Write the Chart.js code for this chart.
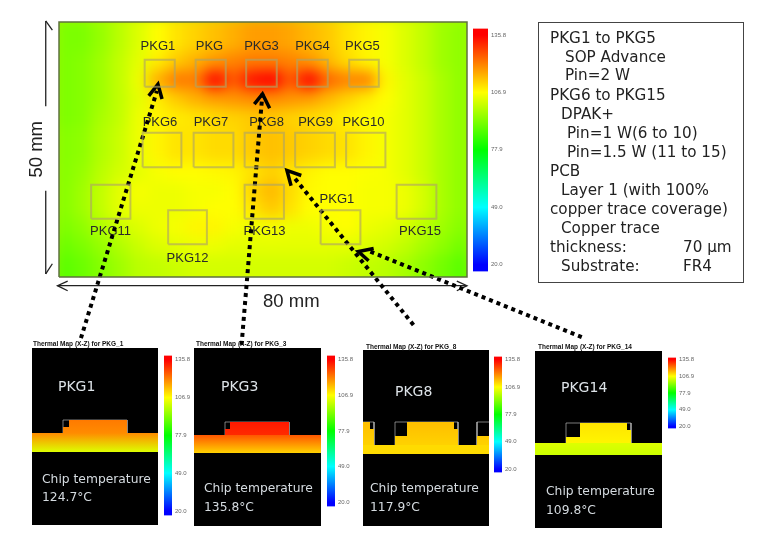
<!DOCTYPE html>
<html>
<head>
<meta charset="utf-8">
<script src="https://cdn.jsdelivr.net/npm/chart.js@4"></script>
<style>
html, body { margin: 0; background: #fff; }
#page { position: relative; width: 768px; height: 540px; overflow: hidden; filter: blur(0.45px); font-family: "Liberation Sans", sans-serif; }
#page canvas, .t, .frame { position: absolute; }
.t { white-space: pre; line-height: 1; }
.note { font-family: "DejaVu Sans", sans-serif; font-size: 15.2px; color: #222; }
.title { font-size: 6.5px; color: #111; font-weight: bold; }
.name { font-family: "DejaVu Sans", sans-serif; font-size: 14px; color: #dde3e8; }
.chip { font-family: "DejaVu Sans", sans-serif; font-size: 12.3px; color: #d5dbe0; }
.dim { font-size: 18.5px; color: #222; }
#heatClip { position: absolute; left: 59px; top: 22px; width: 408px; height: 255px; overflow: hidden; background: #c0e800; }
#heat { left: -20px; top: -20px; filter: blur(7px); }
#notes { position: absolute; left: 538px; top: 22px; width: 204px; height: 259px; border: 1px solid #444; }
</style>
</head>
<body>
<div id="page">
  <div id="heatClip"><canvas id="heat" width="448" height="306"></canvas></div>
  <div id="notes"></div>

  <canvas id="bar0" width="35" height="256" style="left:473px;top:22px"></canvas>

  <canvas id="section1" width="126" height="177" style="left:32px;top:348px;background:#000"></canvas>
  <canvas id="section2" width="127" height="178" style="left:194px;top:348px;background:#000"></canvas>
  <canvas id="section3" width="126" height="176" style="left:363px;top:350px;background:#000"></canvas>
  <canvas id="section4" width="127" height="177" style="left:535px;top:351px;background:#000"></canvas>

  <canvas id="bar1" width="28" height="173" style="left:164px;top:349px"></canvas>
  <canvas id="bar2" width="28" height="164" style="left:327px;top:349px"></canvas>
  <canvas id="bar3" width="28" height="129" style="left:494px;top:350px"></canvas>
  <canvas id="bar4" width="28" height="84" style="left:668px;top:351px"></canvas>

  <div class="t title" style="left:33px;top:341px">Thermal Map (X-Z) for PKG_1</div>
  <div class="t title" style="left:196px;top:341px">Thermal Map (X-Z) for PKG_3</div>
  <div class="t title" style="left:366px;top:344px">Thermal Map (X-Z) for PKG_8</div>
  <div class="t title" style="left:538px;top:344px">Thermal Map (X-Z) for PKG_14</div>

  <div class="t name" style="left:58px;top:379px">PKG1</div>
  <div class="t name" style="left:221px;top:379px">PKG3</div>
  <div class="t name" style="left:395px;top:384px">PKG8</div>
  <div class="t name" style="left:561px;top:380px">PKG14</div>

  <div class="t chip" style="left:42px;top:473px">Chip temperature</div>
  <div class="t chip" style="left:42px;top:491px">124.7°C</div>
  <div class="t chip" style="left:204px;top:482px">Chip temperature</div>
  <div class="t chip" style="left:204px;top:501px">135.8°C</div>
  <div class="t chip" style="left:370px;top:482px">Chip temperature</div>
  <div class="t chip" style="left:370px;top:501px">117.9°C</div>
  <div class="t chip" style="left:546px;top:485px">Chip temperature</div>
  <div class="t chip" style="left:546px;top:504px">109.8°C</div>

  <div class="t dim" style="left:263px;top:292px">80 mm</div>
  <div class="t dim" style="left:7px;top:140px;transform:rotate(-90deg);transform-origin:center;width:58px;text-align:center">50 mm</div>

  <div class="t note" style="left:550px;top:31px">PKG1 to PKG5</div>
  <div class="t note" style="left:565px;top:50px">SOP Advance</div>
  <div class="t note" style="left:565px;top:68px">Pin=2 W</div>
  <div class="t note" style="left:550px;top:88px">PKG6 to PKG15</div>
  <div class="t note" style="left:561px;top:107px">DPAK+</div>
  <div class="t note" style="left:567px;top:126px">Pin=1 W(6 to 10)</div>
  <div class="t note" style="left:567px;top:145px">Pin=1.5 W (11 to 15)</div>
  <div class="t note" style="left:550px;top:164px">PCB</div>
  <div class="t note" style="left:561px;top:183px">Layer 1 (with 100%</div>
  <div class="t note" style="left:550px;top:202px">copper trace coverage)</div>
  <div class="t note" style="left:561px;top:221px">Copper trace</div>
  <div class="t note" style="left:550px;top:240px">thickness:</div>
  <div class="t note" style="left:683px;top:240px">70 µm</div>
  <div class="t note" style="left:561px;top:259px">Substrate:</div>
  <div class="t note" style="left:683px;top:259px">FR4</div>

  <canvas id="overlay" width="768" height="540" style="left:0;top:0"></canvas>
</div>

<script>
// temperature scale, degC
var colorStops = [20, 49, 77.9, 106.9, 135.8];
var colorValues = ["#0000ff", "#00ffff", "#00ff00", "#ffff00", "#ff0000"];
var colorbarTicks = [20, 49, 77.9, 106.9, 135.8];
var colorbarRange = [16.6, 139];

// board temperature, one row per 4 mm, top to bottom
var heatX = [-2, 2, 6, 10, 14, 18, 22, 26, 30, 34, 38, 42, 46, 50, 54, 58, 62, 66, 70, 74, 78, 82];
var heatY = [52, 48, 44, 40, 36, 32, 28, 24, 20, 16, 12, 8, 4, 0, -4];
var heatTemps = [
    [92,92,95,99,103,107,110,112,114,116,118,118,117,115,113,110,108,106,103,100,96,94],
    [92,92,95,99,103,107,110,112,114,116,118,118,117,115,113,110,108,106,103,100,96,94],
    [92,93,96,100,104,109,113,116,119,121,122,122,121,119,115,111,108,106,103,100,96,94],
    [92,93,96,100,105,116,122,122,135,126,134,136,126,135,124,121,121,108,104,101,97,94],
    [92,93,96,100,104,109,113,116,118,119,120,120,119,118,115,112,109,107,104,101,97,94],
    [92,93,97,100,105,108,109,110,111,112,113,113,112,111,110,108,107,106,104,101,97,94],
    [93,94,98,101,105,108,110,110,111,111,113,114,113,112,111,110,108,106,104,101,97,94],
    [93,94,98,101,105,108,110,110,111,111,113,114,113,112,111,110,108,106,104,101,97,94],
    [93,95,99,102,104,106,107,107,107.5,108,110,112,110,108,107,107,106.5,106,104,101,97,94],
    [93,96,100,104,106,105,105,106,106,107,112,115,111,107.5,107,107,106,106,105,102,97,94],
    [93,96,100,104,105,105,105,106,107,107,110,113,110,107,107,107,106,106,105,102,97,94],
    [92,94,98,101,103,105,106,108,108,106,105,106,105,105,106,107,105,104,102,99,96,93],
    [90,92,95,98,101,103,104,105,105,104,104,104,104,104,104,104,103,102,100,97,94,91],
    [88,90,93,96,99,100,101,102,102,102,102,102,102,102,102,101,100,99,97,94,91,88],
    [88,90,93,96,99,100,101,102,102,102,102,102,102,102,102,101,100,99,97,94,91,88]
];

// package outlines on the board, mm
var pkgLeft = [16.8, 26.8, 36.7, 46.7, 56.9, 16.4, 26.4, 36.4, 46.3, 56.3, 6.3, 21.4, 36.4, 51.3, 66.2];
var pkgRight = [22.7, 32.7, 42.7, 52.7, 62.7, 24, 34.2, 44.1, 54.1, 64, 14, 29, 44.1, 59.1, 74];
var pkgBottom = [37.3, 37.3, 37.3, 37.3, 37.3, 21.5, 21.5, 21.5, 21.5, 21.5, 11.4, 6.4, 11.4, 6.4, 11.4];
var pkgTop = [42.6, 42.6, 42.6, 42.6, 42.6, 28.3, 28.3, 28.3, 28.3, 28.3, 18.1, 13.1, 18.1, 13.1, 18.1];

// package labels, centre in mm
var labelNames = ["PKG1", "PKG", "PKG3", "PKG4", "PKG5", "PKG6", "PKG7", "PKG8", "PKG9", "PKG10", "PKG1", "PKG11", "PKG13", "PKG15", "PKG12"];
var labelX = [19.4, 29.5, 39.7, 49.7, 59.5, 19.8, 29.8, 40.7, 50.3, 59.7, 54.5, 10.1, 40.3, 70.8, 25.2];
var labelY = [45.2, 45.2, 45.2, 45.2, 45.2, 30.3, 30.3, 30.3, 30.3, 30.3, 15.3, 9, 9, 9, 3.6];

// dotted arrows, tail then tip, mm
var arrowX = [[4.3, 19.2], [35.8, 39.9], [102.5, 60.5], [69.5, 46.1]];
var arrowY = [[-12, 36.5], [-13.3, 36.1], [-11.8, 5.2], [-9.4, 19.5]];
var headX = [[17.6, 19.4, 20.2], [38.3, 39.9, 41.3], [61.7, 58.7, 60.7], [47.5, 44.7, 45.5]];
var headY = [[35.5, 37.8, 34.9], [33.9, 35.9, 33.1], [5.6, 5, 3.2], [19.9, 20.9, 17.9]];

// dimension lines, mm
var dimX = [[-2.6, -2.6], [-2.6, -2.6], [-3.7, -2.6, -1.3], [-3.7, -2.6, -1.3], [-0.3, 80], [1.7, -0.3, 1.7], [78, 80, 78]];
var dimY = [[50.2, 33.5], [16.9, 0.6], [48.4, 50.2, 48.4], [2.6, 0.6, 2.6], [-1.7, -1.7], [-0.8, -1.7, -2.7], [-0.8, -1.7, -2.7]];

// X-Z sections: board band, die profile and outline, in section units
var bandTop = [92, 91, 81, 85];
var bandBottom = [73, 73, 72, 73];
var bandTemps = [[120, 103], [126, 112], [111, 111], [103, 101]];
var dieTemps = [[123, 120], [134, 131], [114, 112], [110, 108]];
var dieX = [
    [[31, 31, 37, 37, 95, 95]],
    [[31, 31, 36, 36, 95, 95]],
    [[0, 0, 7, 7, 11, 11], [32, 32, 44, 44, 91, 91, 95, 95], [114, 114, 126, 126]],
    [[31, 31, 45, 45, 92, 92, 96, 96]]
];
var dieY = [
    [[92, 98, 98, 105, 105, 92]],
    [[91, 97, 97, 104, 104, 91]],
    [[81, 104, 104, 97, 97, 81], [81, 90, 90, 104, 104, 97, 97, 81], [81, 90, 90, 81]],
    [[85, 91, 91, 105, 105, 98, 98, 85]]
];
var outlineX = [
    [[31, 31, 95, 95, 31]],
    [[31, 31, 95, 95, 31]],
    [[0, 11, 11, 0], [32, 32, 95, 95, 32], [126, 114, 114, 126]],
    [[31, 31, 96, 96, 31]]
];
var outlineY = [
    [[92, 105, 105, 92, 92]],
    [[91, 104, 104, 91, 91]],
    [[104, 104, 81, 81], [81, 104, 104, 81, 81], [104, 104, 81, 81]],
    [[85, 105, 105, 85, 85]]
];
var sectionH = [177, 178, 176, 177];
var sectionW = [126, 127, 126, 127];

Chart.defaults.animation = false;
Chart.defaults.responsive = false;
Chart.defaults.plugins.legend.display = false;
Chart.defaults.plugins.tooltip.enabled = false;

function hex(c) {
    return [parseInt(c.substr(1, 2), 16), parseInt(c.substr(3, 2), 16), parseInt(c.substr(5, 2), 16)];
}

function tempColor(t) {
    t = Math.max(colorStops[0], Math.min(colorStops[4], t));
    for (var i = 0; i < 4; i++) {
        if (t <= colorStops[i + 1]) {
            var k = (t - colorStops[i]) / (colorStops[i + 1] - colorStops[i]);
            var a = hex(colorValues[i]), b = hex(colorValues[i + 1]);
            return "rgb(" + Math.round(a[0] + (b[0] - a[0]) * k) + "," + Math.round(a[1] + (b[1] - a[1]) * k) + "," + Math.round(a[2] + (b[2] - a[2]) * k) + ")";
        }
    }
}

// heat field, blurred by css
var heatPoints = [];
var heatColors = [];
heatY.forEach(function(y, j) {
    heatX.forEach(function(x, i) {
        heatPoints.push({ x: x, y: y });
        heatColors.push(tempColor(heatTemps[j][i]));
    });
});

new Chart(document.getElementById("heat"), {
    type: "scatter",
    data: {
        datasets: [{
            data: heatPoints,
            pointStyle: "rect",
            pointRadius: 15,
            pointBorderWidth: 0,
            pointBackgroundColor: heatColors
        }]
    },
    options: {
        scales: {
            x: { display: false, min: -4, max: 84 },
            y: { display: false, min: -6, max: 54 }
        }
    }
});

// colour bars
function colorbar(id) {
    new Chart(document.getElementById(id), {
        type: "bar",
        data: {
            labels: ["T"],
            datasets: [{
                data: [colorbarRange],
                barPercentage: 1,
                categoryPercentage: 1,
                backgroundColor: function(c) {
                    var area = c.chart.chartArea;
                    if (!area) return "#ff0";
                    var y = c.chart.scales.y;
                    var g = c.chart.ctx.createLinearGradient(0, y.getPixelForValue(colorStops[4]), 0, y.getPixelForValue(colorStops[0]));
                    for (var i = 0; i < 5; i++) {
                        g.addColorStop(1 - i / 4, colorValues[i]);
                    }
                    return g;
                }
            }]
        },
        options: {
            scales: {
                x: { display: false },
                y: {
                    position: "right",
                    min: colorbarRange[0],
                    max: colorbarRange[1],
                    afterBuildTicks: function(s) {
                        s.ticks = colorbarTicks.map(function(v) { return { value: v }; });
                    },
                    afterFit: function(s) {
                        s.width = 20;
                    },
                    grid: { display: false, drawTicks: false },
                    border: { display: false },
                    ticks: {
                        padding: 3,
                        font: { size: 6 },
                        color: "#666",
                        callback: function(v) { return v.toFixed(1); }
                    }
                }
            }
        }
    });
}
["bar0", "bar1", "bar2", "bar3", "bar4"].forEach(colorbar);

// X-Z sections
function xy(xs, ys) {
    return xs.map(function(x, i) { return { x: x, y: ys[i] }; });
}

function sectionFill(temps, top, bottom) {
    return function(c) {
        var y = c.chart.scales.y;
        if (!c.chart.chartArea || !y) return tempColor(temps[0]);
        var g = c.chart.ctx.createLinearGradient(0, y.getPixelForValue(top), 0, y.getPixelForValue(bottom));
        g.addColorStop(0, tempColor(temps[0]));
        g.addColorStop(1, tempColor(temps[1]));
        return g;
    };
}

bandTop.forEach(function(top, n) {
    var sets = [{
        data: [{ x: 0, y: top }, { x: sectionW[n], y: top }],
        borderWidth: 0,
        pointRadius: 0,
        fill: { value: bandBottom[n] },
        backgroundColor: sectionFill(bandTemps[n], top, bandBottom[n])
    }];
    dieX[n].forEach(function(xs, p) {
        sets.push({
            data: xy(xs, dieY[n][p]),
            borderWidth: 0,
            pointRadius: 0,
            fill: { value: top },
            backgroundColor: sectionFill(dieTemps[n], top + 20, top)
        });
    });
    outlineX[n].forEach(function(xs, p) {
        sets.push({
            data: xy(xs, outlineY[n][p]),
            borderWidth: 1,
            borderColor: "rgba(205,205,205,0.6)",
            pointRadius: 0,
            fill: false
        });
    });
    new Chart(document.getElementById("section" + (n + 1)), {
        type: "line",
        data: { datasets: sets },
        options: {
            scales: {
                x: { type: "linear", display: false, min: 0, max: sectionW[n] },
                y: { display: false, min: 0, max: sectionH[n] }
            }
        }
    });
});

// outlines, arrows and labels over everything, in board mm
var pkgLines = [];
pkgLeft.forEach(function(l, i) {
    pkgLines.push({ x: l, y: pkgBottom[i] }, { x: l, y: pkgTop[i] }, { x: pkgRight[i], y: pkgTop[i] },
        { x: pkgRight[i], y: pkgBottom[i] }, { x: l, y: pkgBottom[i] }, { x: l, y: null });
});

var overlaySets = [
    {
        data: [{ x: 0, y: 0 }, { x: 0, y: 50 }, { x: 80, y: 50 }, { x: 80, y: 0 }, { x: 0, y: 0 }],
        borderColor: "#5f7040", borderWidth: 1.5, pointRadius: 0, clip: false
    },
    {
        data: pkgLines,
        borderColor: "rgba(175,165,100,0.65)", borderWidth: 2, pointRadius: 0, spanGaps: false
    }
];
arrowX.forEach(function(xs, i) {
    overlaySets.push({
        data: xy(xs, arrowY[i]),
        borderColor: "#000", borderWidth: 4, borderDash: [4, 4], pointRadius: 0, clip: false
    });
    overlaySets.push({
        data: xy(headX[i], headY[i]),
        borderColor: "#000", borderWidth: 3.5, pointRadius: 0, clip: false
    });
});
dimX.forEach(function(xs, i) {
    overlaySets.push({
        data: xy(xs, dimY[i]),
        borderColor: "#222", borderWidth: 1.3, pointRadius: 0, clip: false
    });
});

new Chart(document.getElementById("overlay"), {
    type: "line",
    data: { datasets: overlaySets },
    options: {
        layout: { padding: { left: 59, right: 301, top: 22, bottom: 263 } },
        scales: {
            x: { type: "linear", display: false, min: 0, max: 80 },
            y: { display: false, min: 0, max: 50 }
        }
    },
    plugins: [{
        id: "pkgLabels",
        beforeDatasetsDraw: function(chart) {
            var ctx = chart.ctx;
            ctx.save();
            ctx.font = '13px "Liberation Sans"';
            ctx.fillStyle = "#2a2a2a";
            ctx.textAlign = "center";
            ctx.textBaseline = "middle";
            labelNames.forEach(function(name, i) {
                ctx.fillText(name, chart.scales.x.getPixelForValue(labelX[i]), chart.scales.y.getPixelForValue(labelY[i]));
            });
            ctx.restore();
        }
    }]
});
</script>
</body>
</html>
